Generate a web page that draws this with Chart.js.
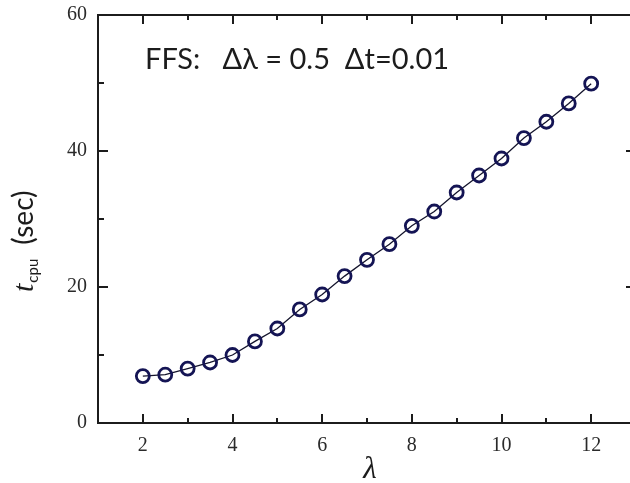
<!DOCTYPE html>
<html>
<head>
<meta charset="utf-8">
<script src="https://cdn.jsdelivr.net/npm/chart.js@4"></script>
<style>
  html, body { margin: 0; padding: 0; background: #fff; overflow: hidden; }
  #wrap { position: relative; width: 640px; height: 483px; }
</style>
</head>
<body>
<div id="wrap"><canvas id="cpuChart"></canvas></div>
<script>
// lambda values and CPU time (sec)
const lambdas = [2, 2.5, 3, 3.5, 4, 4.5, 5, 5.5, 6, 6.5, 7, 7.5, 8, 8.5, 9, 9.5, 10, 10.5, 11, 11.5, 12];
const cpuTimes = [6.9, 7.1, 8.0, 8.9, 10.0, 12.0, 13.9, 16.7, 18.9, 21.6, 24.0, 26.3, 29.0, 31.1, 33.9, 36.4, 38.9, 41.9, 44.3, 47.0, 49.9];

const xMajorTicks = [2, 4, 6, 8, 10, 12];
const xMinorTicks = [3, 5, 7, 9, 11];
const yMajorTicks = [0, 20, 40, 60];
const yMinorTicks = [10, 30, 50];

const annotationText = 'FFS:   \u0394\u03bb = 0.5  \u0394t=0.01';

// frame with inward ticks, plus the texts
// (the right-hand axis line sits just past the cropped edge in the original)
const framePlugin = {
    id: 'frame',
    afterDraw(chart) {
        const { ctx, chartArea: a, scales } = chart;
        const xs = scales.x, ys = scales.y;
        ctx.save();
        ctx.strokeStyle = '#1c1c1c';
        ctx.lineWidth = 2;
        ctx.beginPath();
        ctx.moveTo(a.right + 10, a.top);
        ctx.lineTo(a.left, a.top);
        ctx.lineTo(a.left, a.bottom);
        ctx.lineTo(a.right + 10, a.bottom);
        ctx.stroke();

        ctx.beginPath();
        const xTick = (v, len) => {
            const px = Math.round(xs.getPixelForValue(v));
            ctx.moveTo(px, a.bottom); ctx.lineTo(px, a.bottom - len);
            ctx.moveTo(px, a.top); ctx.lineTo(px, a.top + len);
        };
        const yTick = (v, len) => {
            const py = Math.round(ys.getPixelForValue(v));
            ctx.moveTo(a.left, py); ctx.lineTo(a.left + len, py);
            ctx.moveTo(a.right, py); ctx.lineTo(a.right - len, py);
        };
        xMajorTicks.forEach(v => xTick(v, 9));
        xMinorTicks.forEach(v => xTick(v, 5));
        yMajorTicks.forEach(v => yTick(v, 10));
        yMinorTicks.forEach(v => yTick(v, 6));
        ctx.stroke();

        // annotation
        ctx.fillStyle = '#1c1c1c';
        ctx.textBaseline = 'alphabetic';
        ctx.textAlign = 'left';
        ctx.font = '29px Lato';
        ctx.fillText(annotationText, a.left + 47, a.top + 54);

        // x title
        ctx.textAlign = 'center';
        ctx.font = 'italic 31px "Liberation Serif"';
        ctx.fillText('\u03bb', (a.left + a.right) / 2 + 3, 478);

        // y title, rotated
        ctx.translate(33, 292);
        ctx.rotate(-Math.PI / 2);
        ctx.textAlign = 'left';
        let x = 0;
        ctx.font = 'italic 30px "Liberation Serif"';
        ctx.fillText('t', x, 0);
        x += ctx.measureText('t').width + 1;
        ctx.font = '15px Lato';
        ctx.fillText('cpu', x, 5);
        x += ctx.measureText('cpu').width + 14;
        ctx.font = '28px Lato';
        ctx.fillText('(sec)', x, 0);
        ctx.restore();
    }
};

new Chart(document.getElementById('cpuChart'), {
    type: 'line',
    data: {
        datasets: [{
            data: lambdas.map((l, i) => ({ x: l, y: cpuTimes[i] })),
            borderColor: '#14142c',
            borderWidth: 1.3,
            pointStyle: 'circle',
            pointRadius: 6.5,
            pointBorderWidth: 2.8,
            pointBorderColor: '#141454',
            pointBackgroundColor: 'rgba(0,0,0,0)',
            tension: 0
        }]
    },
    options: {
        responsive: true,
        maintainAspectRatio: false,
        animation: false,
        layout: { autoPadding: false, padding: { top: 15, right: 4, left: 0, bottom: 0 } },
        plugins: { legend: { display: false }, tooltip: { enabled: false } },
        scales: {
            x: {
                type: 'linear',
                min: 1,
                max: 13,
                afterBuildTicks: s => { s.ticks = xMajorTicks.map(v => ({ value: v })); },
                afterFit: s => { s.height = 60; s.paddingLeft = 0; s.paddingRight = 0; },
                grid: { display: false, drawTicks: false },
                border: { display: false },
                ticks: {
                    font: { family: 'Liberation Serif', size: 20 },
                    color: '#2a2a2a',
                    padding: 11,
                    maxRotation: 0,
                    autoSkip: false
                }
            },
            y: {
                min: 0,
                max: 60,
                afterBuildTicks: s => { s.ticks = yMajorTicks.map(v => ({ value: v })); },
                afterFit: s => { s.width = 98; s.paddingTop = 0; s.paddingBottom = 0; },
                grid: { display: false, drawTicks: false },
                border: { display: false },
                ticks: {
                    font: { family: 'Liberation Serif', size: 20 },
                    color: '#2a2a2a',
                    padding: 11
                }
            }
        }
    },
    plugins: [framePlugin]
});
</script>
</body>
</html>
